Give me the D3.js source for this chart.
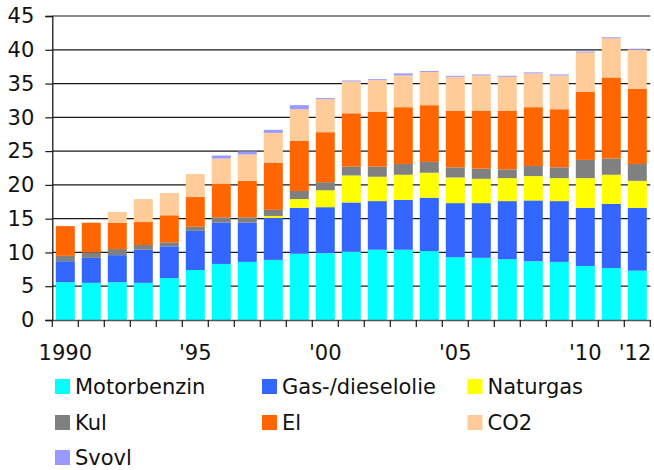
<!DOCTYPE html>
<html><head><meta charset="utf-8">
<script src="https://cdn.jsdelivr.net/npm/d3@7/dist/d3.min.js"></script>
<style>html,body{margin:0;background:#fff;overflow:hidden}svg{display:block}text{font-family:"DejaVu Sans",Verdana,sans-serif}</style>
</head><body><svg id="c" width="654" height="470"></svg>
<script>
const years = d3.range(1990, 2013);
const xTickLabels = {1990:"1990",1995:"'95",2000:"'00",2005:"'05",2010:"'10",2012:"'12"};
const seriesNames = ["Motorbenzin","Gas-/dieselolie","Naturgas","Kul","El","CO2","Svovl"];
const seriesColors = ["#00FFFF","#3366FF","#FFFF00","#808080","#FF6600","#FFCC99","#9999FF"];
const motorbenzin = [5.6,5.5,5.6,5.5,6.2,7.4,8.3,8.6,8.9,9.8,9.9,10.1,10.4,10.4,10.2,9.3,9.2,9.0,8.7,8.6,8.0,7.7,7.3];
const gasDiesel   = [3.1,3.7,4.0,4.9,4.7,5.8,6.1,5.8,6.2,6.8,6.8,7.3,7.2,7.4,7.9,8.0,8.1,8.6,9.0,9.0,8.6,9.5,9.3];
const naturgas    = [0,0,0,0,0,0,0,0,0.3,1.3,2.5,4.0,3.6,3.7,3.7,3.8,3.6,3.4,3.6,3.4,4.4,4.3,4.0];
const kul         = [0.8,0.8,0.9,0.7,0.6,0.6,0.8,0.8,0.9,1.2,1.2,1.3,1.5,1.6,1.6,1.5,1.5,1.3,1.5,1.6,2.7,2.4,2.5];
const el          = [4.4,4.4,3.9,3.4,4.0,4.4,5.0,5.4,7.0,7.4,7.4,7.9,8.1,8.4,8.4,8.4,8.6,8.7,8.7,8.6,10.1,12.0,11.1];
const co2         = [0,0,1.6,3.4,3.3,3.4,3.7,3.9,4.4,4.7,4.9,4.7,4.7,4.7,4.9,5.0,5.2,5.0,5.0,5.0,5.8,5.8,5.8];
const svovl       = [0,0,0,0,0,0,0.45,0.45,0.45,0.6,0.15,0.15,0.15,0.3,0.15,0.15,0.15,0.15,0.15,0.15,0.15,0.15,0.15];
const yTicks = d3.range(0, 46, 5);

const seriesData = [motorbenzin,gasDiesel,naturgas,kul,el,co2,svovl];
const rows = years.map((yr,i)=>{const r={year:yr}; seriesNames.forEach((n,k)=>r[n]=seriesData[k][i]); return r;});
const stacked = d3.stack().keys(seriesNames)(rows);

const svg = d3.select("#c");
const mLeft = 52.3, mRight = 650.3, mTop = 16, mBottom = 320;
const FS = 21;
const x = d3.scaleBand().domain(years).range([mLeft,mRight]).paddingInner(0.27).paddingOuter(0.135);
const y = d3.scaleLinear().domain([0,45]).range([mBottom, mTop]);

// gridlines
svg.append("g").selectAll("line").data(yTicks.filter(t=>t>0)).join("line")
  .attr("x1", mLeft).attr("x2", mRight).attr("y1", d=>y(d)).attr("y2", d=>y(d))
  .attr("stroke","#1a1a1a").attr("stroke-width",1.2);

// bars
svg.append("g").selectAll("g").data(stacked).join("g")
  .attr("fill",(d,i)=>seriesColors[i])
  .selectAll("rect").data(d=>d.filter(s=>s[1]-s[0]>0)).join("rect")
  .attr("x", d=>x(d.data.year)).attr("width", x.bandwidth())
  .attr("y", d=>y(d[1])).attr("height", d=>y(d[0])-y(d[1]));

// y axis
const ya = svg.append("g").attr("transform",`translate(${mLeft},0)`)
  .call(d3.axisLeft(y).tickValues(yTicks).tickSize(7).tickPadding(11));
ya.select(".domain").attr("stroke","#1a1a1a").attr("stroke-width",1.3);
ya.selectAll(".tick line").attr("stroke","#1a1a1a").attr("stroke-width",1.2);
ya.selectAll("text").attr("font-size",FS).attr("fill","#111").attr("font-family","DejaVu Sans, Verdana, sans-serif");

// x axis
const xa = svg.append("g").attr("transform",`translate(0,${mBottom})`)
  .call(d3.axisBottom(x).tickSize(0).tickFormat(d=>xTickLabels[d]||""));
xa.select(".domain").attr("stroke","#555").attr("stroke-width",1.5);
xa.selectAll("text").attr("font-size",FS).attr("fill","#111").attr("font-family","DejaVu Sans, Verdana, sans-serif")
  .attr("y",40).attr("dy",0);
xa.selectAll(".tick text").filter(d=>d===2012).attr("text-anchor","end").attr("dx", 14);
// boundary ticks
const bounds = years.map(yr=>x(yr)-x.step()*x.paddingInner()/2).concat([mRight]);
svg.append("g").selectAll("line").data(bounds).join("line")
  .attr("x1",d=>d).attr("x2",d=>d).attr("y1",mBottom).attr("y2",mBottom+7)
  .attr("stroke","#1a1a1a").attr("stroke-width",1.2);

// legend
const legend = svg.append("g");
const colX = [55, 262, 467.5], rowBase = [394, 430, 465];
seriesNames.forEach((n,i)=>{
  const g = legend.append("g").attr("transform",`translate(${colX[i%3]},${rowBase[Math.floor(i/3)]})`);
  g.append("rect").attr("x",0).attr("y",-15).attr("width",15).attr("height",15).attr("fill",seriesColors[i]);
  g.append("text").attr("x",20).attr("y",0).attr("font-size",FS).attr("fill","#111").text(n);
});
</script></body></html>
